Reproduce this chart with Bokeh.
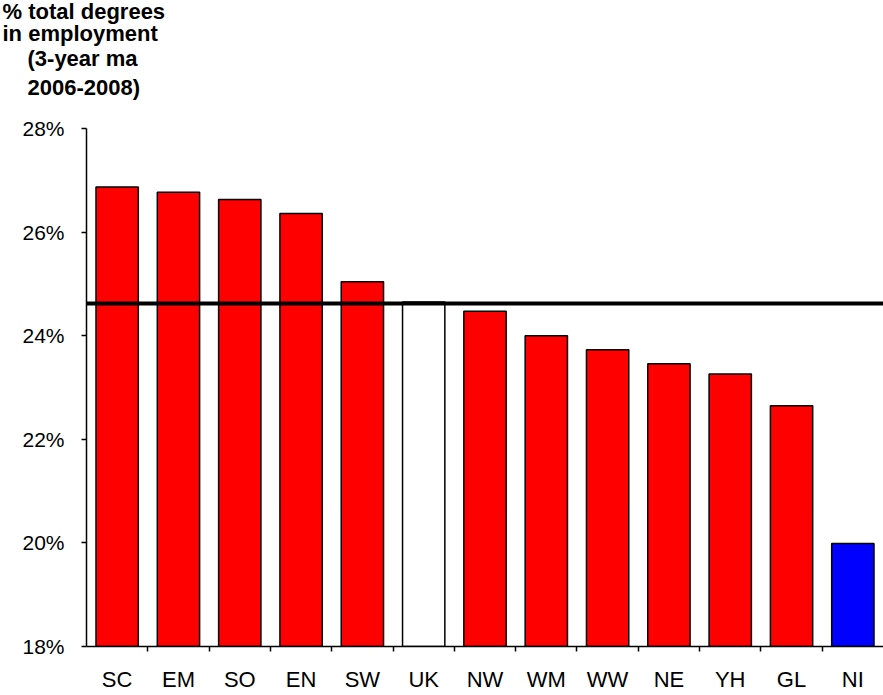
from bokeh.plotting import figure
from bokeh.models import (ColumnDataSource, Span, Title, FixedTicker,
                          PrintfTickFormatter, Range1d)
from bokeh.embed import file_html
from bokeh.resources import INLINE

# ---- data ----
regions = ["SC", "EM", "SO", "EN", "SW", "UK", "NW", "WM", "WW", "NE", "YH", "GL", "NI"]
values = [26.87, 26.77, 26.63, 26.36, 25.04, 24.65, 24.47, 24.00, 23.73, 23.46, 23.26, 22.65, 19.99]
bar_colors = ["#FF0000"] * 5 + ["#FFFFFF"] + ["#FF0000"] * 6 + ["#0000FF"]
uk_average = 24.62
y_ticks = [18, 20, 22, 24, 26, 28]
title_top = "% total degrees\nin employment"
title_bottom = "(3-year ma\n2006-2008)"

FONT = "Liberation Sans"

positions = [i + 0.5 for i in range(len(regions))]
src = ColumnDataSource(dict(x=positions, top=values, color=bar_colors))

p = figure(width=883, height=694, output_backend="svg", toolbar_location=None,
           x_range=Range1d(0, len(regions)), y_range=Range1d(18, 28),
           min_border_left=86, min_border_right=0, min_border_top=128,
           min_border_bottom=46)
p.outline_line_color = None
p.xgrid.grid_line_color = None
p.ygrid.grid_line_color = None
p.background_fill_color = "white"
p.border_fill_color = "white"

p.vbar(x="x", top="top", bottom=18, width=0.69, source=src,
       fill_color="color", line_color="black", line_width=1.5)

p.add_layout(Span(location=uk_average, dimension="width",
                  line_color="black", line_width=4))

# y axis
p.yaxis.ticker = FixedTicker(ticks=y_ticks)
p.yaxis.formatter = PrintfTickFormatter(format="%d%%")
p.yaxis.axis_line_color = "black"
p.yaxis.axis_line_width = 1.5
p.yaxis.major_tick_line_color = "black"
p.yaxis.major_tick_line_width = 1.5
p.yaxis.major_tick_out = 5
p.yaxis.major_tick_in = 0
p.yaxis.minor_tick_line_color = None
p.yaxis.major_label_standoff = 17
p.yaxis.major_label_text_font = FONT
p.yaxis.major_label_text_font_size = "21px"
p.yaxis.major_label_text_color = "black"

# x axis: labels at bar centres, ticks between categories
p.xaxis.ticker = FixedTicker(ticks=positions,
                             minor_ticks=list(range(1, len(regions))))
p.xaxis.major_label_overrides = {pos: r for pos, r in zip(positions, regions)}
p.xaxis.axis_line_color = "black"
p.xaxis.axis_line_width = 1.5
p.xaxis.major_tick_line_color = None
p.xaxis.major_tick_out = 0
p.xaxis.major_tick_in = 0
p.xaxis.minor_tick_line_color = "black"
p.xaxis.minor_tick_line_width = 1.5
p.xaxis.minor_tick_out = 5
p.xaxis.minor_tick_in = 0
p.xaxis.major_label_standoff = 15
p.xaxis.major_label_text_font = FONT
p.xaxis.major_label_text_font_size = "22px"
p.xaxis.major_label_text_color = "black"

# title block (first added sits nearest the frame)
p.add_layout(Title(text=" ", align="left", standoff=22,
                   text_font_size="1px", text_color="white"), "above")
p.add_layout(Title(text=title_bottom, align="left", offset=-59, standoff=7,
                   text_font=FONT, text_font_style="bold", text_line_height=1.15,
                   text_font_size="22px", text_color="black"), "above")
p.add_layout(Title(text=title_top, align="left", offset=-84, standoff=-10,
                   text_font=FONT, text_font_style="bold", text_line_height=0.88,
                   text_font_size="22px", text_color="black"), "above")

open("out.html", "w").write(file_html(p, INLINE))
